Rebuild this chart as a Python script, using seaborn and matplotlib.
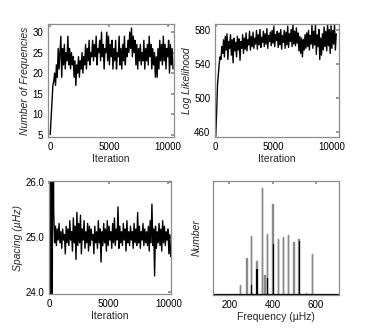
import numpy as np
import pandas as pd
import matplotlib
matplotlib.use('Agg')
import matplotlib.pyplot as plt
import seaborn as sns

# trace values, one value every 75 iterations
step = 75

nfreq = [5, 9, 13, 17, 18, 20, 17, 22,
         19, 26, 21, 25, 29, 19, 26, 22,
         27, 21, 25, 23, 29, 22, 26, 21,
         25, 22, 24, 19, 23, 17, 22, 20,
         24, 19, 23, 21, 25, 20, 24, 22,
         27, 21, 26, 23, 28, 22, 25, 24,
         28, 23, 27, 24, 29, 22, 26, 25,
         28, 23, 30, 24, 27, 21, 26, 25,
         30, 23, 29, 22, 27, 24, 28, 21,
         26, 23, 28, 21, 25, 24, 29, 22,
         26, 21, 27, 23, 29, 22, 26, 24,
         28, 25, 30, 26, 31, 24, 29, 25,
         28, 22, 27, 21, 26, 23, 27, 22,
         25, 23, 28, 21, 26, 23, 27, 22,
         29, 24, 27, 21, 26, 22, 25, 19,
         24, 19, 26, 21, 28, 23, 27, 22,
         29, 23, 27, 21, 26, 24, 28, 20, 27, 22, 26, 21]

loglike = [455, 482, 515, 528, 540, 548, 545, 560,
           552, 568, 548, 572, 556, 575, 545, 566,
           558, 574, 550, 568, 541, 570, 555, 565,
           548, 572, 556, 569, 544, 566, 558, 574,
           552, 570, 557, 576, 555, 568, 562, 578,
           556, 572, 560, 577, 558, 570, 563, 579,
           557, 574, 562, 580, 559, 571, 565, 578,
           560, 575, 563, 581, 558, 573, 566, 577,
           561, 579, 564, 583, 560, 574, 567, 578,
           559, 576, 562, 580, 557, 573, 565, 579,
           558, 577, 562, 584, 559, 575, 566, 580,
           560, 586, 563, 578, 561, 582, 564, 576,
           555, 572, 552, 570, 548, 568, 556, 574,
           558, 576, 560, 579, 556, 573, 563, 585,
           558, 578, 562, 586, 551, 574, 560, 580,
           545, 570, 550, 575, 556, 583, 560, 578,
           555, 586, 561, 580, 552, 584, 558, 579, 563, 586, 556, 575]

spacing = [30, 20, 31, 19, 30,
           25.45, 24.9, 25.2, 24.85, 25.15, 24.95, 25.25, 24.9,
           25.1, 24.8, 25.15, 24.95, 25.05, 24.7, 25.2, 24.9,
           25.15, 24.85, 25.3, 24.95, 25.1, 24.75, 25.35, 24.9,
           25.2, 24.6, 25.45, 24.85, 25.25, 24.9, 25.4, 24.7,
           25.15, 24.95, 25.3, 24.8, 25.1, 24.9, 25.25, 24.75,
           25.2, 24.85, 25.15, 24.95, 25.05, 24.7, 25.2, 24.9,
           25.1, 24.8, 25.3, 24.9, 25.15, 24.55, 25.1, 24.85,
           25.25, 24.9, 25.15, 24.75, 25.3, 24.85, 25.2, 24.95,
           25.1, 24.8, 25.25, 24.9, 25.35, 24.85, 25.15, 24.95,
           25.55, 24.8, 25.2, 24.9, 25.1, 24.85, 25.25, 24.95,
           25.15, 24.75, 25.3, 24.9, 25.1, 24.85, 25.2, 24.95,
           25.1, 24.8, 25.25, 24.9, 25.15, 24.85, 25.45, 24.9,
           25.2, 24.8, 25.1, 24.95, 25.25, 24.85, 25.15, 24.9,
           25.1, 24.85, 25.2, 24.75, 25.3, 24.9, 25.6, 24.85,
           25.15, 24.3, 25.2, 24.8, 25.1, 24.9, 25.25, 24.85,
           25.15, 24.75, 25.3, 24.9, 25.2, 24.85, 25.1, 24.95,
           25.15, 24.7, 25.05, 24.65]

# histogram of frequencies (grey spikes, with darker overlapping bins)
freq_grey = [248, 277, 300, 323, 349, 362, 373, 397, 423, 445, 469, 495, 518, 553, 580]
count_grey = [28, 108, 175, 100, 318, 58, 180, 270, 165, 172, 177, 157, 164, 5, 120]
freq_black = [300, 323, 373, 400, 520]
count_black = [28, 75, 50, 150, 160]

sns.set_theme(style='white', rc={
    'axes.edgecolor': '#8c8c8c', 'axes.linewidth': 0.9,
    'xtick.direction': 'in', 'ytick.direction': 'in',
    'xtick.top': True, 'ytick.right': True,
    'xtick.major.size': 2.5, 'ytick.major.size': 2.5,
    'xtick.color': '#8c8c8c', 'ytick.color': '#8c8c8c',
    'xtick.labelcolor': 'black', 'ytick.labelcolor': 'black',
    'xtick.labelsize': 7, 'ytick.labelsize': 7,
    'axes.labelsize': 7.5, 'axes.labelpad': 1.5,
})
plt.rcParams['font.family'] = ['Liberation Sans', 'DejaVu Sans']

fig = plt.figure(figsize=(3.74, 3.32), dpi=100)
ax1 = fig.add_axes([0.128, 0.587, 0.337, 0.341])
ax2 = fig.add_axes([0.575, 0.587, 0.331, 0.341])
ax3 = fig.add_axes([0.131, 0.114, 0.326, 0.341])
ax4 = fig.add_axes([0.570, 0.111, 0.336, 0.344])

df1 = pd.DataFrame({'it': np.arange(len(nfreq)) * step, 'v': nfreq})
sns.lineplot(df1, x='it', y='v', ax=ax1, color='black', lw=1.0, estimator=None)
ax1.set(xlim=(-200, 10500), ylim=(4.4, 32), xticks=[0, 5000, 10000],
        yticks=[5, 10, 15, 20, 25, 30])
ax1.set_xlabel('Iteration')
ax1.set_ylabel('Number of Frequencies', style='italic')

df2 = pd.DataFrame({'it': np.arange(len(loglike)) * step, 'v': loglike})
sns.lineplot(df2, x='it', y='v', ax=ax2, color='black', lw=1.0, estimator=None)
ax2.set(xlim=(-60, 10650), ylim=(454, 586.6), xticks=[0, 5000, 10000],
        yticks=[460, 500, 540, 580])
ax2.set_xlabel('Iteration')
ax2.set_ylabel('Log Likelihood', style='italic')

df3 = pd.DataFrame({'it': np.arange(len(spacing)) * step, 'v': spacing})
sns.lineplot(df3, x='it', y='v', ax=ax3, color='black', lw=1.0, estimator=None)
ax3.set(xlim=(-20, 10220), ylim=(23.97, 26.02), xticks=[0, 5000, 10000],
        yticks=[24, 25, 26], yticklabels=['24.0', '25.0', '26.0'])
ax3.set_xlabel('Iteration')
ax3.set_ylabel('Spacing (\u00b5Hz)', style='italic')

grey_df = pd.DataFrame({'f': freq_grey, 'c': count_grey})
black_df = pd.DataFrame({'f': freq_black, 'c': count_black})
sns.histplot(grey_df, x='f', weights='c', binwidth=2, binrange=(121, 709),
             element='step', fill=False, color='#8a8a8a', lw=1.0, ax=ax4)
sns.histplot(black_df, x='f', weights='c', binwidth=2, binrange=(121, 709),
             element='step', fill=False, color='black', lw=0.8, ax=ax4)
ax4.set(xlim=(125, 705), ylim=(-2, 338), xticks=[200, 400, 600], yticks=[])
ax4.set_xlabel('Frequency (\u00b5Hz)')
ax4.set_ylabel('Number', style='italic', labelpad=8)

fig.savefig('out.png', dpi=100, facecolor='white')
